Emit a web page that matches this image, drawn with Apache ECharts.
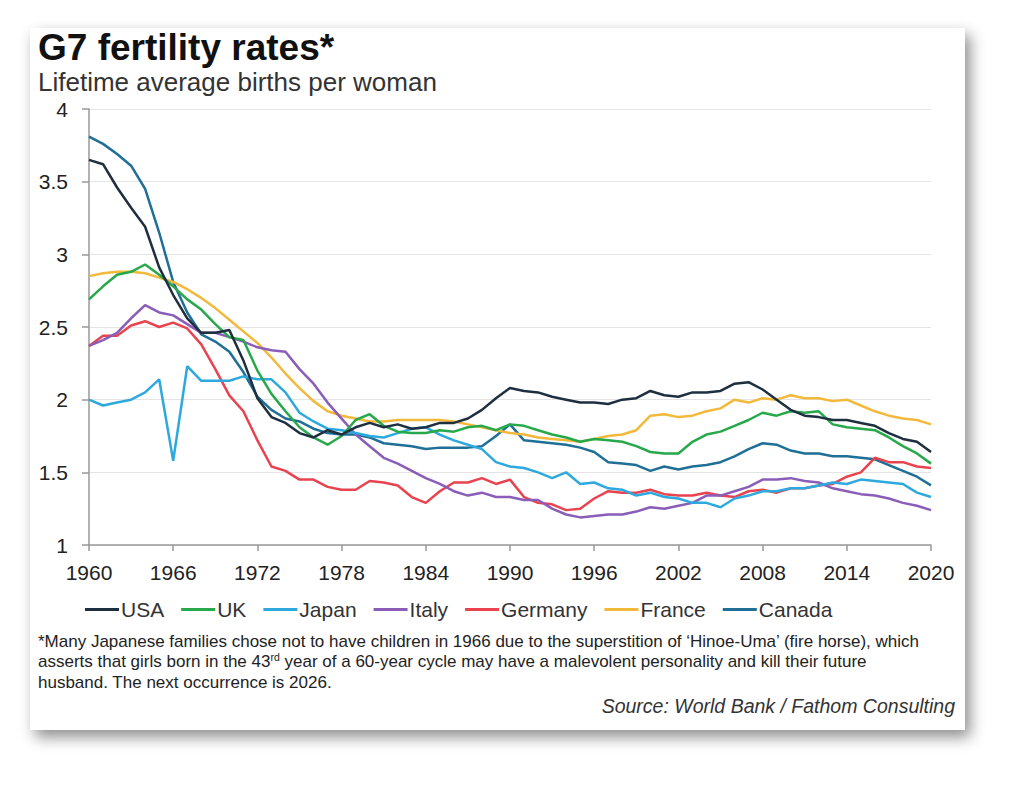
<!DOCTYPE html>
<html>
<head>
<meta charset="utf-8">
<script src="https://cdn.jsdelivr.net/npm/echarts@6/dist/echarts.min.js"></script>
<style>
  html, body { margin: 0; padding: 0; background: #fff; }
  #card {
    position: absolute; left: 30px; top: 28px; width: 935px; height: 702px;
    background: #fff;
    box-shadow: 5px 7px 14px rgba(0,0,0,0.45);
  }
</style>
</head>
<body>
<div id="card"></div>
<script>
// years on the x axis
var years = [];
for (var y = 1960; y <= 2020; y++) years.push(String(y));

var usa = [3.65,3.62,3.46,3.32,3.19,2.91,2.72,2.56,2.46,2.46,2.48,2.27,2.01,1.88,1.84,1.77,1.74,1.79,1.76,1.81,
  1.84,1.81,1.83,1.80,1.81,1.84,1.84,1.87,1.93,2.01,2.08,2.06,2.05,2.02,2.00,1.98,1.98,1.97,2.00,2.01,
  2.06,2.03,2.02,2.05,2.05,2.06,2.11,2.12,2.07,2.00,1.93,1.89,1.88,1.86,1.86,1.84,1.82,1.77,1.73,1.71,1.64];
var uk = [2.69,2.78,2.86,2.88,2.93,2.86,2.78,2.69,2.62,2.52,2.43,2.41,2.20,2.04,1.92,1.81,1.74,1.69,1.75,1.86,
  1.90,1.82,1.78,1.77,1.77,1.79,1.78,1.81,1.82,1.79,1.83,1.82,1.79,1.76,1.74,1.71,1.73,1.72,1.71,1.68,
  1.64,1.63,1.63,1.71,1.76,1.78,1.82,1.86,1.91,1.89,1.92,1.91,1.92,1.83,1.81,1.80,1.79,1.74,1.68,1.63,1.56];
var japan = [2.00,1.96,1.98,2.00,2.05,2.14,1.58,2.23,2.13,2.13,2.13,2.16,2.14,2.14,2.05,1.91,1.85,1.80,1.79,1.77,
  1.75,1.74,1.77,1.80,1.81,1.76,1.72,1.69,1.66,1.57,1.54,1.53,1.50,1.46,1.50,1.42,1.43,1.39,1.38,1.34,
  1.36,1.33,1.32,1.29,1.29,1.26,1.32,1.34,1.37,1.37,1.39,1.39,1.41,1.43,1.42,1.45,1.44,1.43,1.42,1.36,1.33];
var italy = [2.37,2.41,2.46,2.56,2.65,2.60,2.58,2.52,2.46,2.46,2.43,2.40,2.36,2.34,2.33,2.21,2.11,1.98,1.87,1.76,
  1.68,1.60,1.56,1.51,1.46,1.42,1.37,1.34,1.36,1.33,1.33,1.31,1.31,1.25,1.21,1.19,1.20,1.21,1.21,1.23,
  1.26,1.25,1.27,1.29,1.34,1.34,1.37,1.40,1.45,1.45,1.46,1.44,1.43,1.39,1.37,1.35,1.34,1.32,1.29,1.27,1.24];
var germany = [2.37,2.44,2.44,2.51,2.54,2.50,2.53,2.49,2.38,2.21,2.03,1.92,1.72,1.54,1.51,1.45,1.45,1.40,1.38,1.38,
  1.44,1.43,1.41,1.33,1.29,1.37,1.43,1.43,1.46,1.42,1.45,1.33,1.29,1.28,1.24,1.25,1.32,1.37,1.36,1.36,
  1.38,1.35,1.34,1.34,1.36,1.34,1.33,1.37,1.38,1.36,1.39,1.39,1.41,1.42,1.47,1.50,1.60,1.57,1.57,1.54,1.53];
var france = [2.85,2.87,2.88,2.88,2.87,2.84,2.81,2.76,2.70,2.63,2.55,2.47,2.39,2.29,2.18,2.08,1.99,1.92,1.89,1.87,
  1.85,1.85,1.86,1.86,1.86,1.86,1.85,1.83,1.81,1.79,1.77,1.76,1.74,1.73,1.72,1.71,1.73,1.75,1.76,1.79,
  1.89,1.90,1.88,1.89,1.92,1.94,2.00,1.98,2.01,2.00,2.03,2.01,2.01,1.99,2.00,1.96,1.92,1.89,1.87,1.86,1.83];
var canada = [3.81,3.76,3.69,3.61,3.45,3.15,2.81,2.60,2.45,2.40,2.33,2.19,2.02,1.93,1.87,1.85,1.80,1.77,1.76,1.76,
  1.74,1.70,1.69,1.68,1.66,1.67,1.67,1.67,1.68,1.75,1.83,1.72,1.71,1.70,1.69,1.67,1.64,1.57,1.56,1.55,
  1.51,1.54,1.52,1.54,1.55,1.57,1.61,1.66,1.70,1.69,1.65,1.63,1.63,1.61,1.61,1.60,1.59,1.55,1.51,1.47,1.41];

var names = ['USA', 'UK', 'Japan', 'Italy', 'Germany', 'France', 'Canada'];
var values = [usa, uk, japan, italy, germany, france, canada];
var colors = ['#1e2f40', '#27a84a', '#2ea9de', '#8a5db9', '#e8434f', '#f2b93b', '#1f6f96'];

var chart = echarts.init(document.getElementById('card'), null, { renderer: 'svg' });

var series = names.map(function (n, i) {
  return {
    name: n,
    type: 'line',
    data: values[i],
    symbol: 'none',
    lineStyle: { width: 2.5, color: colors[i] },
    itemStyle: { color: colors[i] },
    z: 10 - i
  };
});

var font = 'Liberation Sans, Arial, sans-serif';

var option = {
  animation: false,
  textStyle: { fontFamily: font },
  title: [
    {
      text: 'G7 fertility rates*',
      left: 8, top: 1, padding: 0,
      textStyle: { fontSize: 37, fontWeight: 'bold', color: '#111', fontFamily: font }
    },
    {
      text: 'Lifetime average births per woman',
      left: 8, top: 41, padding: 0,
      textStyle: { fontSize: 26, fontWeight: 'normal', color: '#333', fontFamily: font }
    },
    {
      text: '{n|*Many Japanese families chose not to have children in 1966 due to the superstition of \u2018Hinoe-Uma\u2019 (fire horse), which}\n' +
            '{n|asserts that girls born in the 43}{s|rd}{n| year of a 60-year cycle may have a malevolent personality and kill their future}\n' +
            '{n|husband. The next occurrence is 2026.}',
      left: 8, top: 603, padding: 0,
      textStyle: {
        fontWeight: 'normal',
        rich: {
          n: { fontSize: 17, fontWeight: 'normal', color: '#222', lineHeight: 20.5, fontFamily: font },
          s: { fontSize: 10.5, fontWeight: 'normal', color: '#222', lineHeight: 20.5, verticalAlign: 'top', padding: [0, 0, 6, 0], fontFamily: font }
        }
      }
    },
    {
      text: 'Source: World Bank / Fathom Consulting',
      right: 10, top: 668, padding: 0,
      textStyle: { fontSize: 19.5, fontStyle: 'italic', fontWeight: 'normal', color: '#333', fontFamily: font }
    }
  ],
  legend: {
    data: names,
    left: 50, top: 566,
    itemWidth: 34, itemHeight: 3, itemGap: 17,
    icon: 'rect',
    textStyle: { fontSize: 21, color: '#333', padding: [0, 0, 0, -3], fontFamily: font }
  },
  grid: { left: 59, right: 34, top: 81, bottom: 185, containLabel: false },
  xAxis: {
    type: 'category',
    data: years,
    boundaryGap: false,
    axisLine: { lineStyle: { color: '#999', width: 1.5 } },
    axisTick: { interval: 5, length: 6, lineStyle: { color: '#999', width: 1.5 } },
    axisLabel: { interval: 5, fontSize: 21, color: '#222', margin: 17, fontFamily: font },
    splitLine: { show: false }
  },
  yAxis: {
    type: 'value',
    min: 1, max: 4, interval: 0.5,
    axisLine: { show: true, lineStyle: { color: '#999', width: 1.5 } },
    axisTick: { show: true, length: 7, lineStyle: { color: '#999', width: 1.5 } },
    axisLabel: { fontSize: 21, color: '#222', margin: 21, fontFamily: font },
    splitLine: { lineStyle: { color: '#e4e4e4', width: 1.2 } }
  },
  series: series
};

chart.setOption(option);
</script>
</body>
</html>
